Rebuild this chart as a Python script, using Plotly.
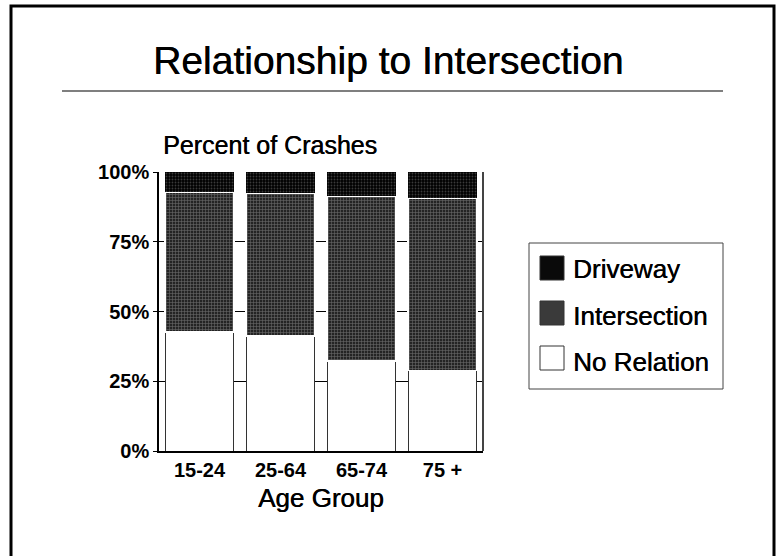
import plotly.graph_objects as go

# ---- data ----
age_groups = ["15-24", "25-64", "65-74", "75 +"]
no_relation = [42.7, 41.3, 32.3, 28.8]
intersection = [50.1, 51.2, 59.0, 61.8]
driveway = [7.2, 7.5, 8.7, 9.4]
series_names = ["Driveway", "Intersection", "No Relation"]
y_ticks = [0, 25, 50, 75, 100]
y_tick_labels = ["0%", "25%", "50%", "75%", "100%"]

FONT = "Liberation Sans, Arial, Helvetica, sans-serif"
HEAVY = "0.45px 0 0 black"

# plot area in pixels
L, R, T, B = 159, 483, 172, 451
W, H = 776, 556


def px(x):
    return (x - L) / (R - L)


def py(y):
    return (B - y) / (B - T)


fig = go.Figure()
fig.add_trace(go.Bar(
    x=age_groups, y=no_relation, name="No Relation",
    marker=dict(color="white", line=dict(color="#333333", width=1)),
))
fig.add_trace(go.Bar(
    x=age_groups, y=intersection, name="Intersection",
    marker=dict(color="#2e2e2e",
                line=dict(color="white", width=1.5),
                pattern=dict(shape="+", bgcolor="#242424", fgcolor="#6a6a6a",
                             size=3, solidity=0.35, fillmode="replace")),
))
fig.add_trace(go.Bar(
    x=age_groups, y=driveway, name="Driveway",
    marker=dict(color="#050505",
                line=dict(color="#050505", width=0),
                pattern=dict(shape=".", bgcolor="#000000", fgcolor="#3a3a3a",
                             size=3, solidity=0.3, fillmode="replace")),
))

shapes = []
annotations = []

# outer border
shapes.append(dict(type="rect", xref="paper", yref="paper",
                   x0=px(11), x1=px(774), y0=py(575), y1=py(6),
                   line=dict(color="black", width=3), fillcolor="rgba(0,0,0,0)"))
# rule under title
shapes.append(dict(type="line", xref="paper", yref="paper",
                   x0=px(62), x1=px(723), y0=py(91), y1=py(91),
                   line=dict(color="#555555", width=1.5)))
# right frame line of plot
shapes.append(dict(type="line", xref="paper", yref="paper",
                   x0=1, x1=1, y0=0, y1=1,
                   line=dict(color="#444444", width=2)))

# title
annotations.append(dict(text="Relationship to Intersection", xref="paper", yref="paper",
                        x=px(388), y=py(60), xanchor="center", yanchor="middle",
                        showarrow=False,
                        font=dict(family=FONT, size=39, color="black", shadow=HEAVY)))
annotations.append(dict(text="Percent of Crashes", xref="paper", yref="paper",
                        x=px(270), y=py(145), xanchor="center", yanchor="middle",
                        showarrow=False,
                        font=dict(family=FONT, size=25, color="black", shadow=HEAVY)))
annotations.append(dict(text="Age Group", xref="paper", yref="paper",
                        x=px(321), y=py(498), xanchor="center", yanchor="middle",
                        showarrow=False,
                        font=dict(family=FONT, size=26, color="black", shadow=HEAVY)))

# legend (manual)
shapes.append(dict(type="rect", xref="paper", yref="paper",
                   x0=px(529), x1=px(723), y0=py(389), y1=py(243),
                   line=dict(color="#444444", width=1), fillcolor="white"))
swatch = {
    "Driveway": ("#0a0a0a", 256, 269),
    "Intersection": ("#3a3a3a", 301, 316),
    "No Relation": ("white", 346, 362),
}
for name in series_names:
    fill, top, mid = swatch[name]
    shapes.append(dict(type="rect", xref="paper", yref="paper",
                       x0=px(540), x1=px(564), y0=py(top + 24), y1=py(top),
                       line=dict(color="#333333", width=1), fillcolor=fill))
    annotations.append(dict(text=name, xref="paper", yref="paper",
                            x=px(571), y=py(mid), xanchor="left", yanchor="middle",
                            showarrow=False,
                            font=dict(family=FONT, size=26, color="black", shadow=HEAVY)))

fig.update_layout(
    width=W, height=H,
    margin=dict(l=L, r=W - R, t=T, b=H - B, pad=0),
    paper_bgcolor="white", plot_bgcolor="white",
    barmode="stack", bargap=0.15,
    showlegend=False,
    shapes=shapes, annotations=annotations,
    font=dict(family=FONT, color="black"),
)
fig.update_xaxes(
    showline=True, linecolor="black", linewidth=1.5,
    tickfont=dict(family=FONT, size=20, color="black", weight="bold"),
    ticks="", showgrid=False, range=[-0.5, 3.5],
)
fig.update_yaxes(
    range=[0, 100], tickvals=y_ticks, ticktext=y_tick_labels,
    showline=True, linecolor="black", linewidth=1.5,
    showgrid=True, gridcolor="black", gridwidth=1,
    tickfont=dict(family=FONT, size=20, color="black", weight="bold"),
    ticks="outside", ticklen=4, tickcolor="black",
    zeroline=False,
)

fig.write_html("out.html",
               config={"displayModeBar": False},
               post_script="document.body.style.margin='0';document.body.style.overflow='hidden';")
